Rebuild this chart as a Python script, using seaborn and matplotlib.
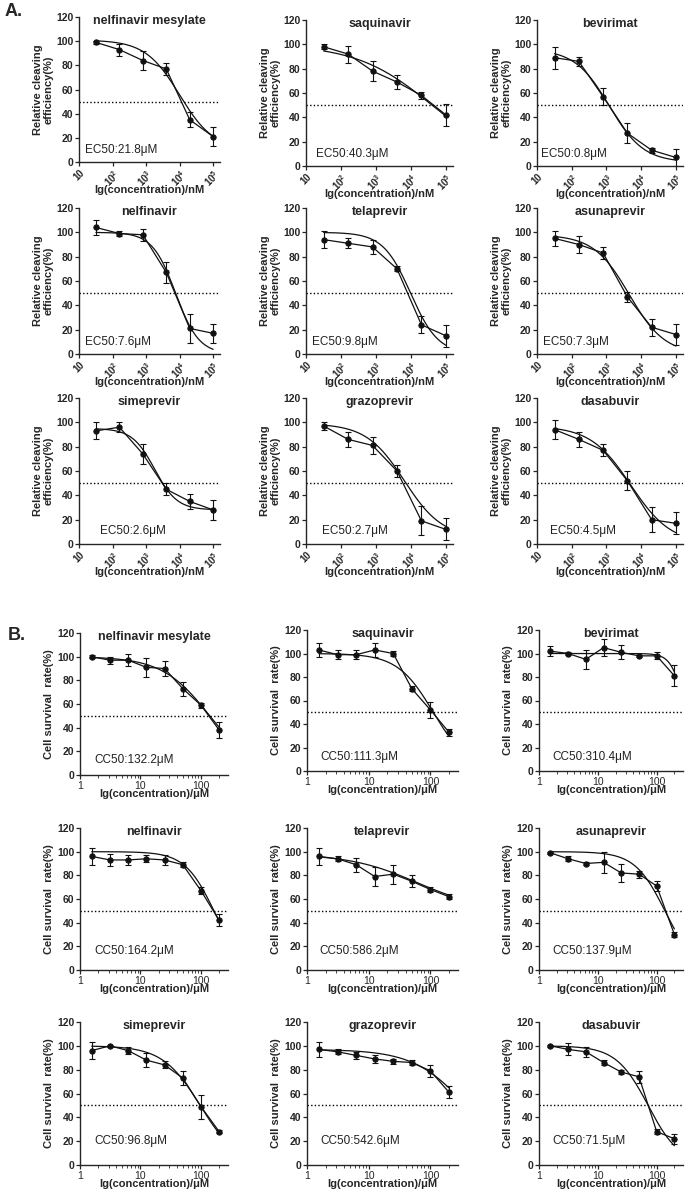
"""
Dose-response panels: A = relative cleaving efficiency, B = cell survival.
"""

import numpy as np
import matplotlib
matplotlib.use("Agg")
import matplotlib.pyplot as plt
import matplotlib.ticker as mticker
import seaborn as sns

sns.set_style("ticks")
plt.rcParams["font.family"] = ["Liberation Sans", "DejaVu Sans"]
plt.rcParams["mathtext.fontset"] = "custom"
plt.rcParams["mathtext.bf"] = "Liberation Sans:bold"
plt.rcParams["mathtext.rm"] = "Liberation Sans"

# ─────────────────────────────────────────────────────────────────────────────
# Data
# ─────────────────────────────────────────────────────────────────────────────
DRUGS = ["nelfinavir mesylate", "saquinavir", "bevirimat",
         "nelfinavir", "telaprevir", "asunaprevir",
         "simeprevir", "grazoprevir", "dasabuvir"]

# A: concentrations in nM
A_CONC = [32, 160, 800, 4000, 20000, 100000]
A_Y = [
    [99, 93, 84, 77, 35, 21],
    [98, 92, 78, 69, 58, 42],
    [89, 86, 57, 27, 13, 7],
    [104, 99, 98, 67, 21, 17],
    [94, 91, 88, 70, 24, 15],
    [95, 90, 83, 47, 22, 16],
    [93, 96, 74, 45, 35, 28],
    [97, 86, 81, 60, 19, 12],
    [94, 86, 77, 52, 20, 17],
]
A_ERR = [
    [1.5, 5, 8, 5, 6, 8],
    [2, 7, 8, 6, 3, 9],
    [9, 4, 7, 8, 2, 7],
    [6, 2, 5, 9, 12, 8],
    [7, 4, 6, 2, 7, 9],
    [6, 7, 5, 4, 7, 9],
    [7, 4, 8, 5, 6, 8],
    [3, 6, 7, 5, 12, 9],
    [8, 6, 5, 8, 10, 9],
]
A_EC50 = ["EC50:21.8μM", "EC50:40.3μM", "EC50:0.8μM",
          "EC50:7.6μM", "EC50:9.8μM", "EC50:7.3μM",
          "EC50:2.6μM", "EC50:2.7μM", "EC50:4.5μM"]
# 4PL fit parameters: top, bottom, midpoint (nM), hill slope
A_FIT = [
    (101, 10, 10000, 0.85),
    (100, 0, 40300, 0.4),
    (96, 3, 1200, 0.88),
    (100, 0, 7600, 1.25),
    (100, 0, 9800, 1.1),
    (98, 0, 4500, 0.85),
    (95, 28, 1800, 1.3),
    (99, 5, 6500, 0.8),
    (97, 0, 5000, 0.75),
]

# B: concentrations in µM
B_CONC = [1.5625, 3.125, 6.25, 12.5, 25, 50, 100, 200]
B_Y = [
    [100, 97, 97, 91, 90, 73, 59, 38],
    [103, 99, 99, 103, 100, 70, 52, 33],
    [102, 100, 95, 105, 101, 98, 98, 81],
    [96, 93, 93, 94, 93, 89, 67, 42],
    [96, 94, 89, 79, 81, 75, 68, 62],
    [99, 94, 90, 91, 82, 81, 71, 30],
    [96, 100, 96, 88, 84, 73, 49, 28],
    [97, 95, 92, 89, 87, 86, 79, 61],
    [100, 97, 95, 86, 78, 74, 28, 22],
]
B_ERR = [
    [1, 3, 5, 8, 6, 6, 2, 7],
    [6, 4, 4, 6, 2, 2, 7, 3],
    [4, 1, 8, 7, 6, 1, 3, 9],
    [7, 5, 4, 3, 4, 2, 3, 5],
    [7, 2, 6, 8, 8, 5, 2, 2],
    [1, 2, 1, 9, 8, 3, 4, 2],
    [7, 1, 3, 6, 3, 6, 10, 1],
    [6, 2, 3, 3, 2, 2, 5, 5],
    [1, 5, 4, 2, 2, 5, 2, 4],
]
B_CC50 = ["CC50:132.2μM", "CC50:111.3μM", "CC50:310.4μM",
          "CC50:164.2μM", "CC50:586.2μM", "CC50:137.9μM",
          "CC50:96.8μM", "CC50:542.6μM", "CC50:71.5μM"]
B_FIT = [
    (100, 0, 140, 1.1),
    (100, 0, 111.3, 1.5),
    (100, 0, 310.4, 3.8),
    (100, 0, 164.2, 1.8),
    (98, 50, 60, 0.8),
    (100, 0, 137.9, 1.7),
    (100, 0, 96.8, 1.4),
    (97, 0, 400, 1.0),
    (100, 0, 71.5, 1.6),
]

# ─────────────────────────────────────────────────────────────────────────────
# Layout (pixel boxes: left, top, right, bottom)
# ─────────────────────────────────────────────────────────────────────────────
W, H = 688, 1196
A_BOXES = [
    (79, 17, 220, 162), (306, 20, 453, 166), (537, 20, 683, 166),
    (79, 208, 220, 354), (306, 208, 453, 354), (537, 208, 683, 354),
    (79, 398, 220, 544), (306, 398, 453, 544), (537, 398, 683, 544),
]
A_TXT = [(0.04, 10), (0.07, 10), (0.03, 10),
         (0.04, 10), (0.04, 10), (0.04, 10),
         (0.15, 11), (0.11, 11), (0.09, 11)]
B_BOXES = [
    (80, 633, 228, 775), (307, 630, 458, 771), (539, 630, 683, 771),
    (80, 828, 228, 970), (307, 828, 458, 970), (539, 828, 683, 970),
    (80, 1022, 228, 1165), (307, 1022, 458, 1165), (539, 1022, 683, 1165),
]
B_TXT = [(0.1, 13), (0.09, 12), (0.09, 12),
         (0.1, 16), (0.08, 16), (0.09, 16),
         (0.1, 20), (0.09, 20), (0.09, 20)]


def hill(x, top, bottom, mid, slope):
    return bottom + (top - bottom) / (1 + (x / mid) ** slope)


def add_ax(fig, box):
    l, t, r, b = box
    return fig.add_axes([l / W, 1 - b / H, (r - l) / W, (b - t) / H])


def draw_panel(ax, conc, y, err, fit, title, label, txt_pos, xlim):
    xfit = np.logspace(np.log10(conc[0]), np.log10(conc[-1]), 200)
    sns.lineplot(x=xfit, y=hill(xfit, *fit), ax=ax, color="#111111",
                 linewidth=0.9)
    ax.errorbar(conc, y, yerr=err, fmt="none", ecolor="#111111",
                elinewidth=0.8, capsize=2, capthick=0.8)
    sns.lineplot(x=conc, y=y, ax=ax, color="#111111", linewidth=0.9,
                 marker="o", markersize=3.8, markeredgecolor="#111111")
    ax.axhline(50, color="black", linestyle=(0, (1, 1.6)), linewidth=1)

    ax.set_xscale("log")
    ax.set_xlim(*xlim)
    ax.set_ylim(0, 120)
    ax.set_yticks(range(0, 121, 20))
    sns.despine(ax=ax)
    ax.tick_params(axis="both", labelsize=7.5, length=3, width=0.9, pad=1)
    ax.tick_params(axis="x", which="minor", length=2, width=0.6)
    for t in ax.get_yticklabels():
        t.set_fontweight("bold")
    for s in ("left", "bottom"):
        ax.spines[s].set_linewidth(1.0)

    ax.text(0.5, 0.97, title, transform=ax.transAxes, ha="center",
            va="center", fontsize=9, fontweight="bold")
    ax.text(txt_pos[0], txt_pos[1], label,
            transform=ax.get_yaxis_transform(), ha="left", va="center",
            fontsize=8.5, color="#222222")
    ax.set_xlabel("")
    ax.set_ylabel("")


fig = plt.figure(figsize=(W / 100, H / 100), dpi=100)

# ── Panel A ──────────────────────────────────────────────────────────────────
a_ticks = [10, 100, 1000, 10000, 100000]
a_ticklabels = ["10", r"$\mathbf{10^{2}}$", r"$\mathbf{10^{3}}$",
                r"$\mathbf{10^{4}}$", r"$\mathbf{10^{5}}$"]
for i in range(9):
    ax = add_ax(fig, A_BOXES[i])
    draw_panel(ax, A_CONC, A_Y[i], A_ERR[i], A_FIT[i], DRUGS[i],
               A_EC50[i], A_TXT[i], (10, 1.6e5))
    ax.set_xticks(a_ticks)
    ax.set_xticklabels(a_ticklabels, rotation=45, ha="right",
                       rotation_mode="anchor", fontsize=7,
                       fontweight="bold")
    ax.xaxis.set_minor_locator(mticker.LogLocator(base=10, subs=np.arange(2, 10)))
    ax.xaxis.set_minor_formatter(mticker.NullFormatter())
    ax.set_xlabel("lg(concentration)/nM", fontsize=8, fontweight="bold",
                  labelpad=-3)
    ax.set_ylabel("Relative cleaving\nefficiency(%)", fontsize=8,
                  fontweight="bold", labelpad=2, linespacing=1.0)

# ── Panel B ──────────────────────────────────────────────────────────────────
for i in range(9):
    ax = add_ax(fig, B_BOXES[i])
    draw_panel(ax, B_CONC, B_Y[i], B_ERR[i], B_FIT[i], DRUGS[i],
               B_CC50[i], B_TXT[i], (1, 280))
    ax.set_xticks([1, 10, 100])
    ax.set_xticklabels(["1", "10", "100"], fontsize=7.5)
    ax.xaxis.set_minor_locator(mticker.LogLocator(base=10, subs=np.arange(2, 10)))
    ax.xaxis.set_minor_formatter(mticker.NullFormatter())
    ax.set_xlabel("lg(concentration)/μM", fontsize=8, fontweight="bold",
                  labelpad=-1)
    ax.set_ylabel("Cell survival  rate(%)", fontsize=8,
                  fontweight="bold", labelpad=2)

fig.text(5 / W, 1 - 12 / H, "A.", fontsize=13, fontweight="bold",
         ha="left", va="center")
fig.text(8 / W, 1 - 635 / H, "B.", fontsize=13, fontweight="bold",
         ha="left", va="center")

fig.savefig("out.png", dpi=100)
